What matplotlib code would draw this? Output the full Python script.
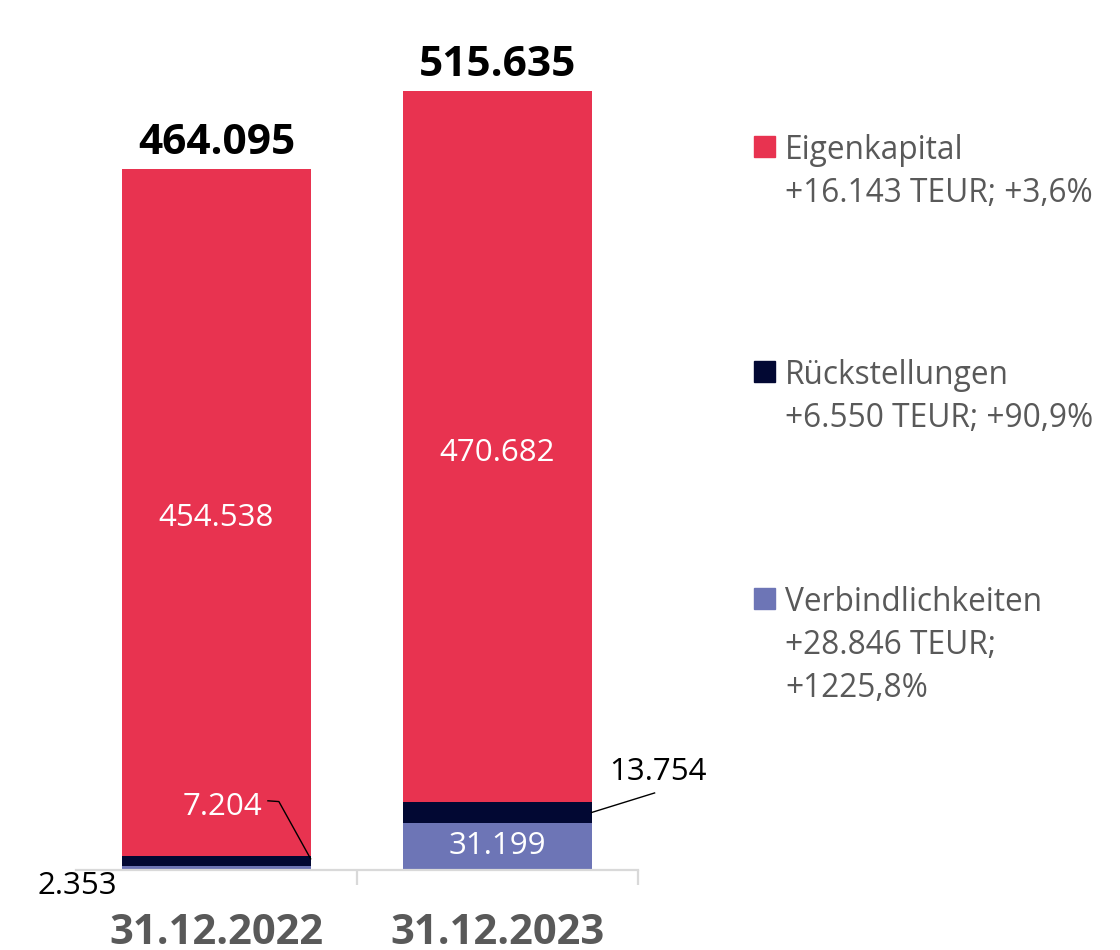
import matplotlib
matplotlib.use("Agg")
import matplotlib.pyplot as plt
from matplotlib.patches import Rectangle

plt.rcParams['font.family'] = ['Open Sans', 'DejaVu Sans']

categories = ["31.12.2022", "31.12.2023"]
verbindlichkeiten = [2353, 31199]
rueckstellungen = [7204, 13754]
eigenkapital = [454538, 470682]
totals = [464095, 515635]
series_names = ["Eigenkapital", "Rückstellungen", "Verbindlichkeiten"]
series_notes = ["+16.143 TEUR; +3,6%", "+6.550 TEUR; +90,9%", "+28.846 TEUR;\n+1225,8%"]
colors = {"Eigenkapital": "#E83350", "Rückstellungen": "#020833", "Verbindlichkeiten": "#6D75B6"}

def fmt(v):
    return f"{v:,}".replace(",", ".")

W, H = 1120, 950
fig = plt.figure(figsize=(W / 100, H / 100), dpi=100)
ax = fig.add_axes([76 / W, 80 / H, (638 - 76) / W, 846 / H])

x = list(range(len(categories)))
bw = 0.67
ax.bar(x, verbindlichkeiten, bw, color=colors["Verbindlichkeiten"])
ax.bar(x, rueckstellungen, bw, bottom=verbindlichkeiten, color=colors["Rückstellungen"])
bottom3 = [a + b for a, b in zip(verbindlichkeiten, rueckstellungen)]
ax.bar(x, eigenkapital, bw, bottom=bottom3, color=colors["Eigenkapital"])

ax.set_xlim(-0.5, 1.5)
ax.set_ylim(0, 560000)
for s in ["top", "right", "left"]:
    ax.spines[s].set_visible(False)
ax.spines["bottom"].set_color("#D9D9D9")
ax.spines["bottom"].set_linewidth(1.6)
ax.set_yticks([])
ax.set_xticks(x)
ax.set_xticklabels(categories, fontsize=30, fontweight="bold", color="#595959")
ax.tick_params(axis="x", length=0, pad=31)
ax.set_xticks([0.5, 1.5], minor=True)
ax.tick_params(axis="x", which="minor", length=11, width=1.6, color="#D9D9D9")

# Eigenkapital labels (centered)
for i in x:
    ax.annotate(fmt(eigenkapital[i]), (i, bottom3[i] + eigenkapital[i] / 2), xytext=(0, -4.5),
                textcoords="offset points", ha="center", va="center", fontsize=22.5, color="white")

# Totals
for i in x:
    ax.annotate(fmt(totals[i]), (i, totals[i]), xytext=(0, 11), textcoords="offset points",
                ha="center", va="baseline", fontsize=30.5, fontweight="bold", color="black")

# Verbindlichkeiten 2023 label inside
ax.text(1, verbindlichkeiten[1] / 2, fmt(verbindlichkeiten[1]), ha="center", va="center",
        fontsize=22.5, color="white")

# Verbindlichkeiten 2022 label outside below
ax.text(-0.497, -10600, fmt(verbindlichkeiten[0]), ha="center", va="center",
        fontsize=22.5, color="black", clip_on=False)

# Rückstellungen 2022 label with leader
ax.text(0.02, 42000, fmt(rueckstellungen[0]), ha="center", va="center", fontsize=22.5, color="white")
edge0 = 0 + bw / 2
ax.plot([0.183, 0.222, edge0], [45800, 45300, verbindlichkeiten[0] + rueckstellungen[0] * 0.7],
        color="black", lw=1.0, clip_on=False)

# Rückstellungen 2023 label with leader
ax.text(1.571, 64900, fmt(rueckstellungen[1]), ha="center", va="center", fontsize=22.5,
        color="black", clip_on=False)
edge1 = 1 + bw / 2
ax.plot([1.559, edge1], [51000, verbindlichkeiten[1] + rueckstellungen[1] / 2],
        color="black", lw=1.0, clip_on=False)

# Legend (manual)
leg_y = [159, 384, 611]
for name, note, yb in zip(series_names, series_notes, leg_y):
    fig.patches.append(Rectangle((754 / W, 1 - (yb - 2) / H), 21 / W, 21 / H,
                                 transform=fig.transFigure, color=colors[name]))
    fig.text(785 / W, 1 - yb / H, name, fontsize=22.8, color="#595959", va="baseline", ha="left")
    for k, line in enumerate(note.split("\n")):
        fig.text(785 / W, 1 - (yb + 43 * (k + 1)) / H, line, fontsize=22.8, color="#595959",
                 va="baseline", ha="left")

fig.savefig("out.png", dpi=100)
